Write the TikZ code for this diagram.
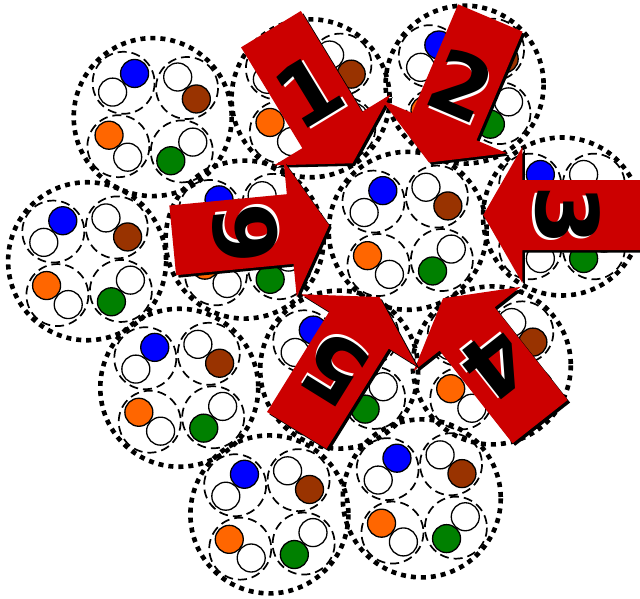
\documentclass[tikz,border=0pt]{standalone}
\usepackage{fontspec}
\newfontfamily\digitfont{DejaVu Sans}
\usetikzlibrary{calc}
\definecolor{arrowred}{HTML}{CC0000}
\definecolor{cblue}{HTML}{0000FF}
\definecolor{cbrown}{HTML}{993300}
\definecolor{cgreen}{HTML}{008000}
\definecolor{corange}{HTML}{FF6600}
\tikzset{
  outerring/.style={line width=4.6pt, dash pattern=on 5pt off 5pt},
  innerring/.style={line width=1.7pt, dash pattern=on 9pt off 5pt},
  ball/.style={draw=black, line width=1.3pt},
  digitstyle/.style={font=\digitfont\bfseries\fontsize{86}{86}\selectfont, inner sep=0pt},
}
\newcommand\arrowpath{(0,0) -- (-39,68) -- (-39,35) -- (-157,35) -- (-157,-35) -- (-39,-35) -- (-39,-68) -- cycle}
\newcommand\clusterrings[3]{%
  \draw[outerring] (#1,#2) circle[radius=79];
  \foreach \k in {0,1,2,3}{
    \pgfmathsetmacro\ph{(#3)-90+90*\k}
    \draw[innerring] ($(#1,#2)+(\ph:45)$) circle[radius=31];
  }
}
\newcommand\clusterballs[3]{%
  \foreach \k/\col in {0/cblue,1/cbrown,2/cgreen,3/corange}{
    \pgfmathsetmacro\ph{(#3)-90+90*\k}
    \filldraw[ball, fill=white] ($(#1,#2)+(\ph:45)+(\ph-90:14.4)$) circle[radius=14];
    \filldraw[ball, fill=\col] ($(#1,#2)+(\ph:45)+(\ph+90:14.4)$) circle[radius=14];
  }
}
\newcommand\bigarrow[5]{%
  \pgfmathsetmacro\arot{-(#3)}
  \pgfmathsetmacro\trot{90-(#3)}
  \begin{scope}[shift={(#1+2.5,#2+2.5)}, rotate=\arot]
    \fill[black] \arrowpath;
  \end{scope}
  \begin{scope}[shift={(#1,#2)}, rotate=\arot]
    \fill[arrowred] \arrowpath;
  \end{scope}
  \node[digitstyle, text=white, rotate=\trot] (#5w) at ($(#1,#2)+(#3+180:84)+(#3-45:3)$) {#4};
  \node[digitstyle, text=black, rotate=\trot] (#5) at ($(#1,#2)+(#3+180:84)$) {#4};
}
\begin{document}
\begin{tikzpicture}[x=1pt, y=-1pt]
  \clip (0,0) rectangle (640,599);
  \fill[white] (0,0) rectangle (640,599);
  % cluster rings
  \foreach \cx/\cy/\th in {152.7/117.1/-40.3, 310.6/98.3/-48.5, 464.6/84.6/-50.8,
      562/216.5/-45, 407.7/230.8/-49.5, 87.1/261.25/-48.7, 244.6/239.6/-50.5,
      179.25/387.75/-49, 339.2/369.6/-51, 491.8/365.4/-47.3,
      269.4/514.4/-49.6, 421.75/498.4/-49.4}{
    \clusterrings{\cx}{\cy}{\th}
  }
  % balls
  \foreach \cx/\cy/\th in {152.7/117.1/-40.3, 310.6/98.3/-48.5, 464.6/84.6/-50.8,
      562/216.5/-45, 407.7/230.8/-49.5, 87.1/261.25/-48.7, 244.6/239.6/-50.5,
      179.25/387.75/-49, 339.2/369.6/-51, 491.8/365.4/-47.3,
      269.4/514.4/-49.6, 421.75/498.4/-49.4}{
    \clusterballs{\cx}{\cy}{\th}
  }
  % arrows
  \bigarrow{352.5}{163.3}{58.7}{1}{n1}
  \bigarrow{429}{162.5}{113}{2}{n2}
  \bigarrow{483.3}{215}{180}{3}{n3}
  \bigarrow{443}{298.3}{-128.2}{4}{n4}
  \bigarrow{379.5}{297}{-58.2}{5}{n5}
  \bigarrow{329}{225.3}{-5.5}{6}{n6}
\end{tikzpicture}
\end{document}
